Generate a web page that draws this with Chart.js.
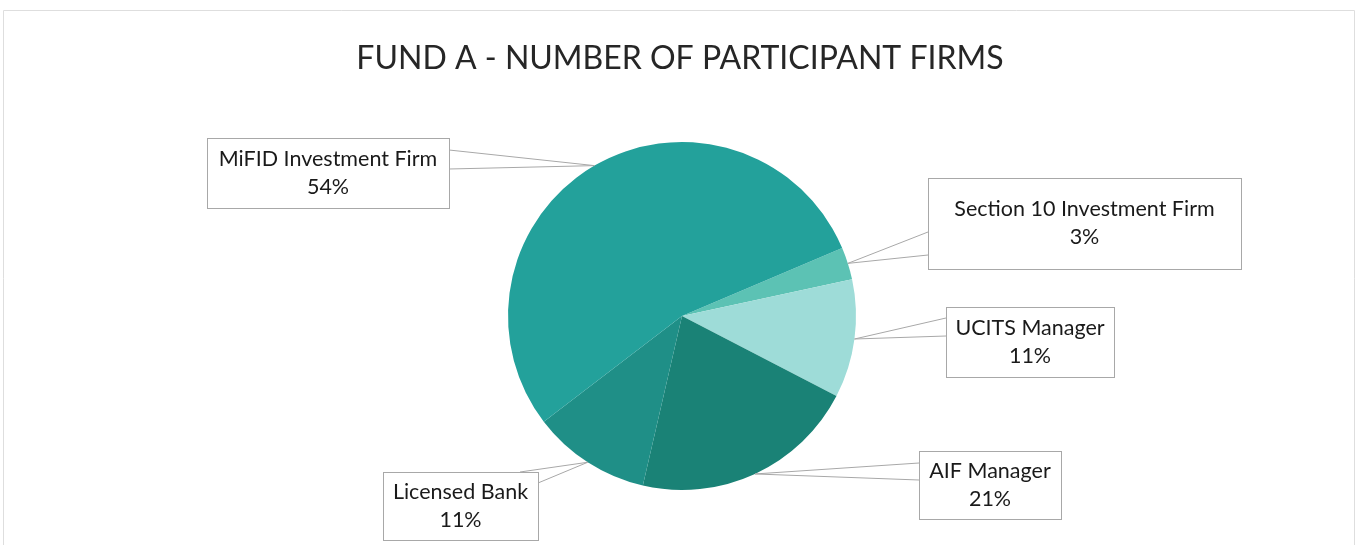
<!DOCTYPE html>
<html>
<head>
<meta charset="utf-8">
<script src="https://cdn.jsdelivr.net/npm/chart.js@4"></script>
<style>
  html, body { margin: 0; padding: 0; background: #fff; }
  #wrap { width: 1358px; height: 545px; position: relative; }
</style>
</head>
<body>
<div id="wrap"><canvas id="pie"></canvas></div>
<script>
// --- data ---
const categories = ['Section 10 Investment Firm', 'UCITS Manager', 'AIF Manager', 'Licensed Bank', 'MiFID Investment Firm'];
const shares = [3, 11, 21, 11, 54];
const sliceColors = ['#5cc2b4', '#9edcd8', '#1a8276', '#1f8f87', '#23a19b'];
const chartTitle = 'FUND A - NUMBER OF PARTICIPANT FIRMS';

// callout boxes: [left, top, right, bottom], and the two points where the pointer leaves the box
const boxes = [
  { rect: [928, 178, 1241, 269], base: [[928, 232], [928, 255]] },
  { rect: [946, 307, 1114, 377], base: [[946, 318], [946, 336]] },
  { rect: [919, 451, 1061, 519], base: [[919, 463], [919, 480]] },
  { rect: [383, 472, 538, 540], base: [[520, 472], [538, 483]] },
  { rect: [207, 138, 449, 208], base: [[449, 150], [449, 169]] }
];

const FONT = 'Lato, "Open Sans", sans-serif';

// draws title, frame and callout labels
const calloutPlugin = {
  id: 'callouts',
  afterDraw(chart) {
    const ctx = chart.ctx;
    ctx.save();

    // faint outer frame
    ctx.strokeStyle = '#dedede';
    ctx.lineWidth = 1;
    ctx.beginPath();
    ctx.moveTo(3.5, 560);
    ctx.lineTo(3.5, 10.5);
    ctx.lineTo(1354.5, 10.5);
    ctx.lineTo(1354.5, 560);
    ctx.stroke();

    // title
    ctx.fillStyle = '#262626';
    ctx.font = '32px ' + FONT;
    ctx.textAlign = 'center';
    ctx.textBaseline = 'middle';
    ctx.fillText(chartTitle, 680, 59);

    const meta = chart.getDatasetMeta(0);
    const total = shares.reduce((a, b) => a + b, 0);
    meta.data.forEach((arc, i) => {
      const mid = (arc.startAngle + arc.endAngle) / 2;
      const tipX = arc.x + Math.cos(mid) * arc.outerRadius;
      const tipY = arc.y + Math.sin(mid) * arc.outerRadius;
      const b = boxes[i];
      const [l, t, r, btm] = b.rect;

      // box + pointer
      ctx.fillStyle = '#fff';
      ctx.strokeStyle = '#a8a8a8';
      ctx.lineWidth = 1;
      ctx.fillRect(l, t, r - l, btm - t);
      ctx.strokeRect(l + 0.5, t + 0.5, r - l, btm - t);
      ctx.beginPath();
      ctx.moveTo(b.base[0][0], b.base[0][1]);
      ctx.lineTo(tipX, tipY);
      ctx.lineTo(b.base[1][0], b.base[1][1]);
      ctx.stroke();

      // text
      const cx = (l + r) / 2;
      const cy = (t + btm) / 2;
      ctx.fillStyle = '#1a1a1a';
      ctx.font = '21.5px ' + FONT;
      ctx.fillText(categories[i], cx, cy - 14);
      ctx.fillText(Math.round(shares[i] / total * 100) + '%', cx, cy + 14);
    });
    ctx.restore();
  }
};

new Chart(document.getElementById('pie'), {
  type: 'pie',
  data: {
    labels: categories,
    datasets: [{
      data: shares,
      backgroundColor: sliceColors,
      borderWidth: 0
    }]
  },
  options: {
    responsive: true,
    maintainAspectRatio: false,
    animation: false,
    rotation: 67,
    layout: { padding: { left: 508, right: 502, top: 142, bottom: 55 } },
    plugins: {
      legend: { display: false },
      tooltip: { enabled: false },
      title: { display: false }
    }
  },
  plugins: [calloutPlugin]
});
</script>
</body>
</html>
